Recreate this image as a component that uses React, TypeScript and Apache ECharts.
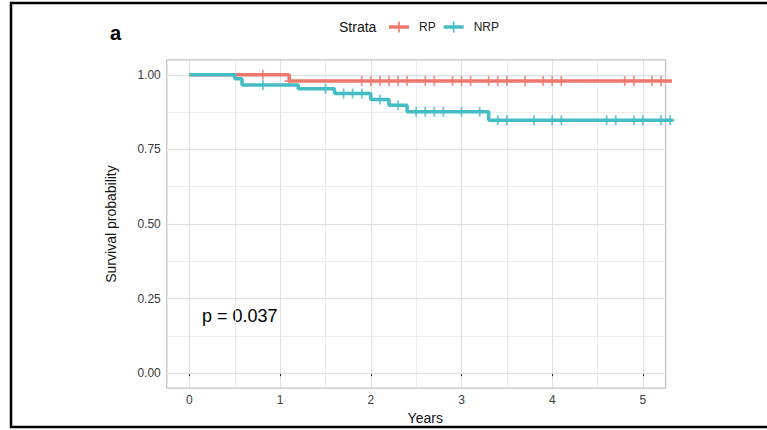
import { useEffect, useRef } from 'react';
import * as echarts from 'echarts';

// ---- data ----
const xTicks = [0, 1, 2, 3, 4, 5];
const xMinor = [0.5, 1.5, 2.5, 3.5, 4.5];
const yTicks = [0, 0.25, 0.5, 0.75, 1];
const yMinor = [0.125, 0.375, 0.625, 0.875];
const xPanel = [-0.25, 5.25];
const yPanel = [-0.05, 1.05];

const rpTimes = [0, 1.1, 5.32];
const rpSurv = [1, 0.979, 0.979];
const rpCensor = [0.81, 1.1, 1.9, 2.0, 2.1, 2.2, 2.3, 2.4, 2.6, 2.7, 2.9, 3.0, 3.1, 3.3, 3.4, 3.5, 3.7, 3.9, 4.0, 4.1, 4.8, 4.9, 5.1, 5.2];

const nrpTimes = [0, 0.5, 0.58, 1.2, 1.6, 2.0, 2.2, 2.4, 3.3, 5.33];
const nrpSurv = [1, 0.987, 0.966, 0.953, 0.937, 0.917, 0.898, 0.876, 0.848, 0.848];
const nrpCensor = [0.81, 1.5, 1.7, 1.8, 1.9, 2.1, 2.3, 2.5, 2.6, 2.7, 2.8, 3.0, 3.2, 3.4, 3.5, 3.8, 4.0, 4.1, 4.6, 4.7, 4.9, 5.0, 5.2, 5.3];

const RP_COLOR = '#EE786E';
const NRP_COLOR = '#45BDC4';
const FONT = '"Liberation Sans", Arial, Helvetica, sans-serif';

const plusPath = 'path://M4,0 L6,0 L6,4 L10,4 L10,6 L6,6 L6,10 L4,10 L4,6 L0,6 L0,4 L4,4 Z';
const legendIcon = 'path://M0,3.8 L20,3.8 L20,7.2 L0,7.2 Z M9.2,0 L10.8,0 L10.8,11 L9.2,11 Z';

function stepValue(times: number[], surv: number[], t: number) {
  let v = surv[0];
  for (let i = 0; i < times.length; i++) if (times[i] <= t) v = surv[i];
  return v;
}

export default function App() {
  const ref = useRef<HTMLDivElement>(null);
  useEffect(() => {
    if (!ref.current) return;
    const chart = echarts.init(ref.current, null, { renderer: 'svg' });
    const hLine = (y: number) => [{ coord: [xPanel[0], y] }, { coord: [xPanel[1], y] }];
    const option: any = {
      animation: false,
      backgroundColor: '#ffffff',
      grid: {
        left: 166.75,
        right: 83.26,
        top: 59.9,
        bottom: 37.9,
        show: false,
      },
      legend: {
        left: 384,
        top: 16,
        itemWidth: 20,
        itemHeight: 11,
        itemGap: 8,
        symbolKeepAspect: false,
        textStyle: { fontFamily: FONT, fontSize: 12, color: '#222', padding: [0, 0, 0, 5] },
        data: [
          { name: 'RP', icon: legendIcon, itemStyle: { color: RP_COLOR } },
          { name: 'NRP', icon: legendIcon, itemStyle: { color: NRP_COLOR } },
        ],
        selectedMode: false,
      },
      xAxis: {
        type: 'value',
        min: -0.25,
        max: 5.45,
        name: 'Years',
        nameLocation: 'middle',
        nameGap: 22,
        nameTextStyle: { fontFamily: FONT, fontSize: 14, color: '#111' },
        axisLine: { show: false },
        axisTick: { show: true, customValues: xTicks, length: 3, lineStyle: { color: '#222', width: 1 } },
        axisLabel: { customValues: xTicks, margin: 6, fontFamily: FONT, fontSize: 12, color: '#3a3a3a', formatter: (v: number) => String(v) },
        splitLine: { show: true, lineStyle: { color: '#e0e0e0', width: 1 } },
      },
      yAxis: {
        type: 'value',
        min: yPanel[0],
        max: yPanel[1],
        name: 'Survival probability',
        nameLocation: 'middle',
        nameGap: 49,
        nameTextStyle: { fontFamily: FONT, fontSize: 14, color: '#111' },
        axisLine: { show: false },
        axisTick: { show: true, customValues: yTicks, length: 3, lineStyle: { color: '#222', width: 1 } },
        axisLabel: { customValues: yTicks, margin: 6, fontFamily: FONT, fontSize: 12, color: '#3a3a3a', formatter: (v: number) => v.toFixed(2) },
        splitLine: { show: false },
      },
      graphic: [
        {
          type: 'rect',
          shape: { x: 11, y: 3, width: 820, height: 424 },
          style: { fill: 'none', stroke: '#000', lineWidth: 2.5 },
          silent: true,
        },
        {
          type: 'text',
          left: 110,
          top: 23,
          style: { text: 'a', font: `bold 20px ${FONT}`, fill: '#000' },
        },
        {
          type: 'text',
          left: 339,
          top: 20,
          style: { text: 'Strata', font: `14px ${FONT}`, fill: '#111' },
        },
        {
          type: 'text',
          left: 202,
          top: 307,
          style: { text: 'p = 0.037', font: `18px ${FONT}`, fill: '#000' },
        },
      ],
      series: [
        {
          type: 'line',
          name: 'minor-grid',
          data: [],
          z: 1,
          silent: true,
          markLine: {
            z: 1,
            silent: true,
            symbol: ['none', 'none'],
            label: { show: false },
            lineStyle: { color: '#e8e8e8', width: 0.8, type: 'solid' },
            emphasis: { disabled: true },
            data: [...xMinor.map((v) => ({ xAxis: v })), ...yMinor.map((v) => hLine(v))],
          },
        },
        {
          type: 'line',
          name: 'major-grid',
          data: [],
          z: 1,
          silent: true,
          markLine: {
            z: 1,
            silent: true,
            symbol: ['none', 'none'],
            label: { show: false },
            lineStyle: { color: '#e0e0e0', width: 1, type: 'solid' },
            emphasis: { disabled: true },
            data: yTicks.map((v) => hLine(v)),
          },
          markArea: {
            z: 1,
            silent: true,
            label: { show: false },
            itemStyle: { color: 'rgba(0,0,0,0)', borderColor: '#c4c4c4', borderWidth: 1.3 },
            emphasis: { disabled: true },
            data: [[{ coord: [xPanel[0], yPanel[0]] }, { coord: [xPanel[1], yPanel[1]] }]],
          },
        },
        {
          type: 'line',
          name: 'RP',
          step: 'end',
          data: rpTimes.map((t, i) => [t, rpSurv[i]]),
          symbol: 'none',
          showSymbol: false,
          clip: false,
          z: 3,
          itemStyle: { color: RP_COLOR },
          lineStyle: { color: RP_COLOR, width: 3.5 },
        },
        {
          type: 'scatter',
          name: 'RP censor',
          data: rpCensor.map((t) => [t, stepValue(rpTimes, rpSurv, t)]),
          symbol: plusPath,
          symbolSize: [9, 10],
          clip: false,
          z: 3,
          itemStyle: { color: RP_COLOR },
        },
        {
          type: 'line',
          name: 'NRP',
          step: 'end',
          data: nrpTimes.map((t, i) => [t, nrpSurv[i]]),
          symbol: 'none',
          showSymbol: false,
          clip: false,
          z: 4,
          itemStyle: { color: NRP_COLOR },
          lineStyle: { color: NRP_COLOR, width: 3.5 },
        },
        {
          type: 'scatter',
          name: 'NRP censor',
          data: nrpCensor.map((t) => [t, stepValue(nrpTimes, nrpSurv, t)]),
          symbol: plusPath,
          symbolSize: [9, 10],
          clip: false,
          z: 4,
          itemStyle: { color: NRP_COLOR },
        },
      ],
    };
    chart.setOption(option);
    return () => chart.dispose();
  }, []);
  return (
    <div
      ref={ref}
      style={{ position: 'absolute', left: 0, top: 0, width: 767, height: 430, background: '#fff' }}
    />
  );
}
